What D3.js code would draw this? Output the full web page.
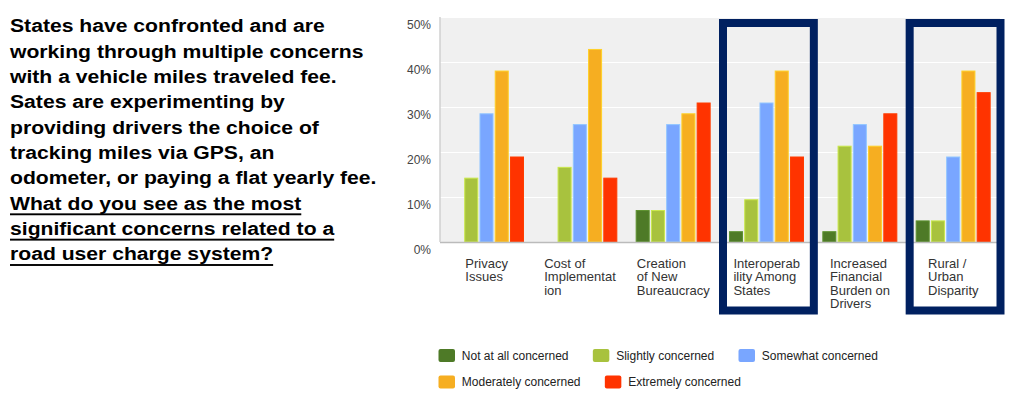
<!DOCTYPE html>
<html>
<head>
<meta charset="utf-8">
<script src="https://cdn.jsdelivr.net/npm/d3@7"></script>
<style>
  body { margin: 0; background: #fff; }
  svg { display: block; font-family: "Liberation Sans", Arial, sans-serif; }
</style>
</head>
<body>
<div id="chart"></div>
<script>
// categories (each label split into its wrapped lines)
var categories = ["Privacy Issues", "Cost of Implementation", "Creation of New Bureaucracy",
                  "Interoperability Among States", "Increased Financial Burden on Drivers", "Rural / Urban Disparity"];
var categoryLines = [
    ["Privacy", "Issues"],
    ["Cost of", "Implementat", "ion"],
    ["Creation", "of New", "Bureaucracy"],
    ["Interoperab", "ility Among", "States"],
    ["Increased", "Financial", "Burden on", "Drivers"],
    ["Rural /", "Urban", "Disparity"]
];
var series = ["Not at all concerned", "Slightly concerned", "Somewhat concerned", "Moderately concerned", "Extremely concerned"];
var colors = ["#4e7a27", "#a8c23e", "#79a6ff", "#f6ae21", "#ff3300"];

// percent per category, one array per series
var notAtAll   = [0,    0,    7.1,  2.4,  2.4,  4.8];
var slightly   = [14.3, 16.7, 7.1,  9.5,  21.4, 4.8];
var somewhat   = [28.6, 26.2, 26.2, 31.0, 26.2, 19.0];
var moderately = [38.1, 42.9, 28.6, 38.1, 21.4, 38.1];
var extremely  = [19.0, 14.3, 31.0, 19.0, 28.6, 33.3];
var seriesValues = [notAtAll, slightly, somewhat, moderately, extremely];

var yTicks = [0, 10, 20, 30, 40, 50];
var highlighted = ["Interoperability Among States", "Rural / Urban Disparity"];

var paragraph = [
    { text: "States have confronted and are", u: false },
    { text: "working through multiple concerns", u: false },
    { text: "with a vehicle miles traveled fee.", u: false },
    { text: "Sates are experimenting by", u: false },
    { text: "providing drivers the choice of", u: false },
    { text: "tracking miles via GPS, an", u: false },
    { text: "odometer, or paying a flat yearly fee.", u: false },
    { text: "What do you see as the most", u: true },
    { text: "significant concerns related to a", u: true },
    { text: "road user charge system?", u: true }
];

var W = 1032, H = 397;
var svg = d3.select("#chart").append("svg").attr("width", W).attr("height", H);

// left paragraph (the source slide is stretched horizontally)
var para = svg.append("g").attr("transform", "translate(10,0) scale(1.175,1)");
paragraph.forEach(function(d, i) {
    var base = 32.3 + i * 25.35;
    var t = para.append("text")
        .attr("x", 0).attr("y", base)
        .attr("font-size", 18).attr("font-weight", "bold")
        .attr("fill", "#000")
        .text(d.text);
    if (d.u) {
        var len = t.node().getComputedTextLength();
        para.append("rect").attr("x", 0).attr("y", base + 3.6)
            .attr("width", len).attr("height", 1.9).attr("fill", "#000");
    }
});

// chart area
var plot = { left: 440, right: 1000, top: 17, bottom: 242 };

var x0 = d3.scaleBand().domain(categories).range([plot.left, plot.right]).padding(0);
var x1 = d3.scaleBand().domain(series).range([9, 84]).paddingInner(0.08);
var y = d3.scaleLinear().domain([0, 50]).range([plot.bottom, plot.top]);

svg.append("rect")
    .attr("x", plot.left).attr("y", plot.top)
    .attr("width", plot.right - plot.left).attr("height", plot.bottom - plot.top)
    .attr("fill", "#f0f0f0");

// gridlines
svg.append("g").selectAll("line")
    .data(yTicks.slice(1))
    .enter().append("line")
    .attr("x1", plot.left).attr("x2", plot.right)
    .attr("y1", function(d) { return y(d) + 0.5; })
    .attr("y2", function(d) { return y(d) + 0.5; })
    .attr("stroke", "#fff").attr("stroke-width", 1);

// y axis labels
var yAxis = d3.axisLeft(y).tickValues(yTicks).tickSize(0).tickPadding(9)
    .tickFormat(function(d) { return d + "%"; });
var yg = svg.append("g").attr("transform", "translate(" + plot.left + ",0)").call(yAxis);
yg.select(".domain").remove();
yg.selectAll("text")
    .attr("font-family", "Liberation Sans, Arial, sans-serif")
    .attr("font-size", 12).attr("fill", "#444")
    .attr("dy", "0.95em");

// bars
var groups = svg.append("g").selectAll("g")
    .data(categories)
    .enter().append("g")
    .attr("transform", function(d) { return "translate(" + x0(d) + ",0)"; });

groups.selectAll("rect")
    .data(function(d, ci) {
        return series.map(function(s, si) { return { s: s, si: si, v: seriesValues[si][ci] }; });
    })
    .enter().append("rect")
    .filter(function(d) { return d.v > 0; })
    .attr("x", function(d) { return x1(d.s) + 0.5; })
    .attr("y", function(d) { return y(d.v) + 0.5; })
    .attr("width", x1.bandwidth() - 1)
    .attr("height", function(d) { return y(0) - y(d.v) - 0.5; })
    .attr("fill", function(d) { return colors[d.si]; })
    .attr("stroke", function(d) { return d3.color(colors[d.si]).brighter(0.5); })
    .attr("stroke-width", 1);

// axis lines
svg.append("line")
    .attr("x1", plot.left).attr("x2", plot.right)
    .attr("y1", plot.bottom + 0.5).attr("y2", plot.bottom + 0.5)
    .attr("stroke", "#bbb").attr("stroke-width", 1.5);
svg.append("line")
    .attr("x1", plot.left).attr("x2", plot.left)
    .attr("y1", plot.top).attr("y2", plot.bottom)
    .attr("stroke", "#d0d0d0").attr("stroke-width", 1.5);

// category labels: left aligned block centered under each category
categories.forEach(function(c, ci) {
    var g = svg.append("g");
    var texts = [];
    categoryLines[ci].forEach(function(line, li) {
        texts.push(g.append("text")
            .attr("y", 268 + li * 13.4)
            .attr("font-size", 13).attr("fill", "#333")
            .text(line));
    });
    var maxw = d3.max(texts, function(t) { return t.node().getComputedTextLength(); });
    var cx = x0(c) + x0.bandwidth() / 2;
    texts.forEach(function(t) { t.attr("x", cx - maxw / 2); });
});

// highlight boxes
svg.append("g").selectAll("rect")
    .data(highlighted)
    .enter().append("rect")
    .attr("x", function(d) { return x0(d) + 3; })
    .attr("y", 23)
    .attr("width", x0.bandwidth() - 2.5)
    .attr("height", 287.5)
    .attr("fill", "none")
    .attr("stroke", "#002060")
    .attr("stroke-width", 8);

// legend
var legendRows = [[0, 1, 2], [3, 4]];
legendRows.forEach(function(row, ri) {
    var lx = 438.5, ly = 355.5 + ri * 26.5;
    row.forEach(function(si) {
        svg.append("rect")
            .attr("x", lx).attr("y", ly - 6.5)
            .attr("width", 16.5).attr("height", 13).attr("rx", 2)
            .attr("fill", colors[si]);
        var t = svg.append("text")
            .attr("x", lx + 23.3).attr("y", ly).attr("dy", "0.35em")
            .attr("font-size", 12).attr("fill", "#222")
            .text(series[si]);
        lx += 23.3 + t.node().getComputedTextLength() + 24.3;
    });
});
</script>
</body>
</html>
